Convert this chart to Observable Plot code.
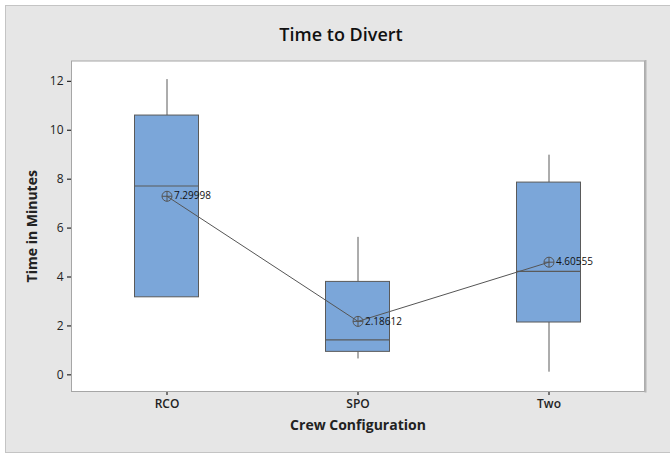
<!DOCTYPE html>
<html>
<head>
<meta charset="utf-8">
<script src="https://cdn.jsdelivr.net/npm/d3@7"></script>
<script src="https://cdn.jsdelivr.net/npm/@observablehq/plot@0.6"></script>
<style>
  body { margin: 0; background: #ffffff; font-family: "Open Sans", sans-serif; }
  #chart { position: relative; width: 670px; height: 454px; overflow: hidden; }
  #panel { position: absolute; left: 5px; top: 5px; width: 680px; height: 446px;
           background: #e6e6e6; border: 1px solid #c4c4c4; }
  #title { position: absolute; left: 0; width: 682px; top: 22px; text-align: center;
           font-size: 18px; font-weight: 600; color: #111; }
  #plot { position: absolute; left: 0; top: 50px; }
  #plot svg { background: transparent; }
  g[aria-label="y-axis label"] text, g[aria-label="x-axis label"] text {
    font-size: 14px; font-weight: 700; fill: #222;
  }
  g[aria-label="x-axis tick label"] text { font-size: 12px; font-weight: 600; fill: #222; }
  g[aria-label="y-axis tick label"] text { font-size: 12px; fill: #222; }
</style>
</head>
<body>
<div id="chart">
  <div id="panel"></div>
  <div id="title">Time to Divert</div>
  <div id="plot"></div>
</div>
<script>
// Crew configurations and their box-plot summaries (minutes)
const crews = ["RCO", "SPO", "Two"];
const whiskerLow = [3.17, 0.65, 0.11];
const q1 = [3.17, 0.94, 2.14];
const medians = [7.72, 1.43, 4.23];
const q3 = [10.6, 3.80, 7.86];
const whiskerHigh = [12.07, 5.62, 8.98];
const means = [7.29998, 2.18612, 4.60555];
const meanLabels = ["7.29998", "2.18612", "4.60555"];
const yTicks = [0, 2, 4, 6, 8, 10, 12];

const rows = crews.map((c, i) => ({
  crew: c, lo: whiskerLow[i], q1: q1[i], med: medians[i], q3: q3[i],
  hi: whiskerHigh[i], mean: means[i], label: meanLabels[i]
}));

// Circle with crosshair, used for the mean symbol
const crossCircle = {
  draw(ctx, size) {
    const r = Math.sqrt(size / Math.PI);
    ctx.moveTo(r, 0);
    ctx.arc(0, 0, r, 0, 2 * Math.PI);
    ctx.moveTo(-r, 0); ctx.lineTo(r, 0);
    ctx.moveTo(0, -r); ctx.lineTo(0, r);
  }
};

const boxInset = 63.5;
const boxFill = "#7ba6d9";
const edge = "#5a5a5a";

const chart = Plot.plot({
  width: 670,
  height: 404,
  marginTop: 10.5,
  marginBottom: 63,
  marginLeft: 71,
  marginRight: 26,
  style: { fontFamily: "Open Sans, sans-serif", background: "transparent" },
  x: {
    type: "band", domain: crews, padding: 0,
    label: "Crew Configuration", labelAnchor: "center", labelOffset: 38,
    tickSize: 4, tickPadding: 4
  },
  y: {
    domain: [-0.68, 12.83], ticks: yTicks,
    label: "Time in Minutes", labelAnchor: "center", labelArrow: "none", labelOffset: 44,
    tickSize: 4, tickPadding: 4
  },
  marks: [
    Plot.frame({ fill: "white", stroke: "none" }),
    Plot.ruleX(rows, { x: "crew", y1: "q3", y2: "hi", stroke: edge, strokeWidth: 1 }),
    Plot.ruleX(rows, { x: "crew", y1: "lo", y2: "q1", stroke: edge, strokeWidth: 1 }),
    Plot.barY(rows, {
      x: "crew", y1: "q1", y2: "q3", fill: boxFill, stroke: edge, strokeWidth: 1,
      insetLeft: boxInset, insetRight: boxInset
    }),
    Plot.tickY(rows, {
      x: "crew", y: "med", stroke: edge, strokeWidth: 1.2,
      insetLeft: boxInset, insetRight: boxInset
    }),
    Plot.line(rows, { x: "crew", y: "mean", stroke: "#555", strokeWidth: 1 }),
    Plot.dot(rows, { x: "crew", y: "mean", symbol: crossCircle, r: 5, stroke: "#555", strokeWidth: 1, fill: "none" }),
    Plot.text(rows, {
      x: "crew", y: "mean", text: "label", dx: 7, textAnchor: "start",
      fontSize: 10, fill: "#111"
    }),
    Plot.frame({ stroke: "#a6a6a6" }),
    Plot.frame({ anchor: "right", stroke: "#b4b4b4", strokeWidth: 2, dx: 1 })
  ]
});

document.getElementById("plot").appendChild(chart);
</script>
</body>
</html>
